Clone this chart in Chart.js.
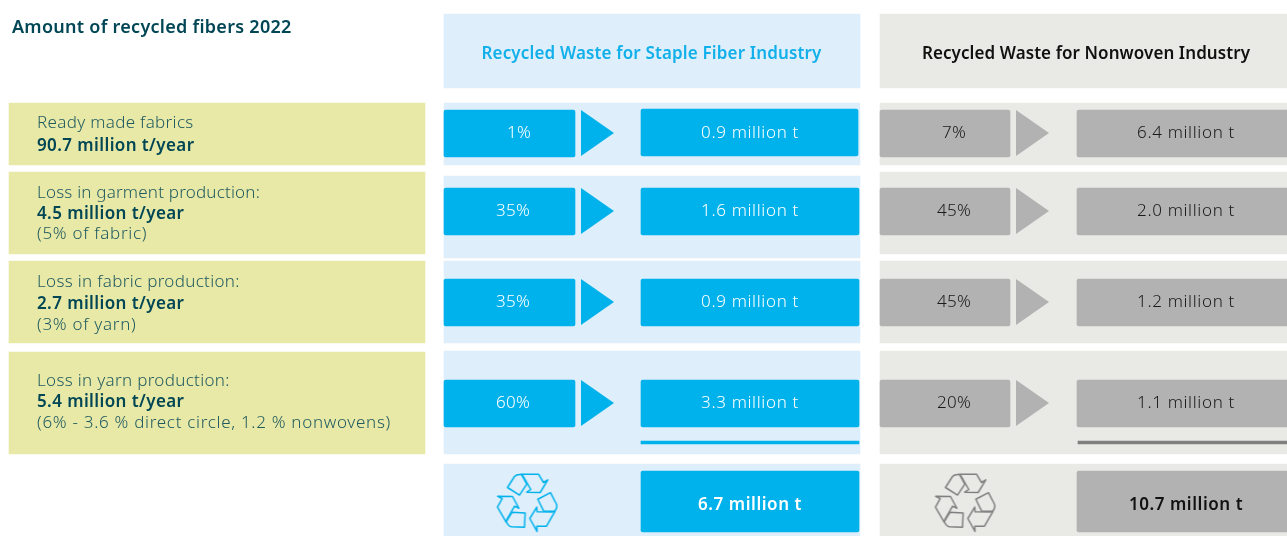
<!DOCTYPE html>
<html>
<head>
<meta charset="utf-8">
<title>Amount of recycled fibers 2022</title>
<script src="https://cdn.jsdelivr.net/npm/chart.js@4"></script>
<style>
html,body{margin:0;padding:0;background:#fff}
canvas{display:block}
</style>
</head>
<body>
<div style="width:1287px;height:536px"><canvas id="c" width="1287" height="536"></canvas></div>
<script>
// ---- data ----
const chartTitle = 'Amount of recycled fibers 2022';
const stapleTitle = 'Recycled Waste for Staple Fiber Industry';
const nonwovenTitle = 'Recycled Waste for Nonwoven Industry';
const categories = ['Ready made fabrics', 'Loss in garment production:', 'Loss in fabric production:', 'Loss in yarn production:'];
const categoryAmounts = [90.7, 4.5, 2.7, 5.4];
const categoryNotes = ['', '(5% of fabric)', '(3% of yarn)', '(6% - 3.6 % direct circle, 1.2 % nonwovens)'];
const staplePercent = [1, 35, 35, 60];
const stapleTonnes = [0.9, 1.6, 0.9, 3.3];
const stapleTotal = 6.7;
const nonwovenPercent = [7, 45, 45, 20];
const nonwovenTonnes = [6.4, 2.0, 1.2, 1.1];
const nonwovenTotal = 10.7;

// ---- layout (pixel frame of the infographic) ----
const W = 1287, H = 536;
const FONT = '"Noto Sans"';
const C = {
  yellow:'#E8E9A6', bluePanel:'#DEEEFB', blue:'#00B2EC', greyPanel:'#E9E9E5', grey:'#B2B2B2', greyLine:'#808080',
  title:'#004655', light:'#1F5A60', dark:'#1A1A1A'
};
const yellowRows = [[103,165],[172,254],[261,343],[352,454]];
const blueRows = [[103,165],[176,258],[261,343],[351,454]];
const greyRows = [[103,165],[172,254],[261,343],[351,454]];
const barRowsLeft = [[110,157],[188,235],[279,326],[380,427]];
const barRowsRight = [[109,156],[188,235],[279,326],[380,427]];
const greyBarRight = [[110,157],[188,235],[279,326],[380,427]];
const triY = [133,211,302,403];
const textY = [138,216,307,408];
const pctXBlue = [519,513,513,513];
const labelBase = [[128,151,0],[198,218.5,239],[287,308.5,330],[385.5,407,428]];
const labelSpacing = [.32,.2,.32,.32];

function rect(x0,x1,y0,y1,color,order,radius){
  return {type:'bar',grouped:false,order,backgroundColor:color,borderWidth:0,borderRadius:radius||0,borderSkipped:false,
          barThickness:x1-x0,data:[{x:(x0+x1)/2,y:[y0,y1]}]};
}
const datasets = [];
yellowRows.forEach(r=>datasets.push(rect(9,425,r[0],r[1],C.yellow,5)));
datasets.push(rect(444,860,14,88,C.bluePanel,5));
datasets.push(rect(880,W,14,88,C.greyPanel,5));
blueRows.forEach(r=>datasets.push(rect(444,860,r[0],r[1],C.bluePanel,5)));
greyRows.forEach(r=>datasets.push(rect(880,W,r[0],r[1],C.greyPanel,5)));
datasets.push(rect(444,860,464,536,C.bluePanel,5));
datasets.push(rect(880,W,464,536,C.greyPanel,5));
categories.forEach((_,i)=>{
  datasets.push(rect(444,575,barRowsLeft[i][0],barRowsLeft[i][1],C.blue,3,2));
  datasets.push(rect(641,i===0?858:859,barRowsRight[i][0],barRowsRight[i][1],C.blue,3,2));
  datasets.push(rect(880,1010,barRowsLeft[i][0],barRowsLeft[i][1],C.grey,3,2));
  datasets.push(rect(1077,W+3,greyBarRight[i][0],greyBarRight[i][1],C.grey,3,2));
});
datasets.push(rect(641,859,441,444,C.blue,3));
datasets.push(rect(1078,W,441,444,C.greyLine,3));
datasets.push(rect(641,859,471,532,C.blue,3,2));
datasets.push(rect(1077,W+3,471,532,C.grey,3,2));

function triangleImage(color){
  const c=document.createElement('canvas');c.width=33;c.height=46;
  const g=c.getContext('2d');g.fillStyle=color;g.beginPath();g.moveTo(0,0);g.lineTo(33,23);g.lineTo(0,46);g.closePath();g.fill();
  return c;
}
function recycleImage(color){
  const c=document.createElement('canvas');c.width=64;c.height=64;
  const g=c.getContext('2d');g.strokeStyle=color;g.lineWidth=1.5;g.lineJoin='round';
  const arrow=[[-6,-28.3],[11,-28.3],[16,-20],[20.3,-22.7],[12.7,-10],[-0.7,-10.3],[3.3,-13],[-4,-25.7]];
  g.translate(32,31.5);
  for(let k=0;k<3;k++){
    g.beginPath();g.moveTo(-20,-15);g.lineTo(-13,-26);g.quadraticCurveTo(-11,-28.5,-6,-28);
    g.lineTo(-0.7,-18.3);g.lineTo(-8,-7.3);g.closePath();g.stroke();
    g.beginPath();arrow.forEach((q,i)=>i?g.lineTo(q[0],q[1]):g.moveTo(q[0],q[1]));g.closePath();g.stroke();
    g.rotate(2*Math.PI/3);
  }
  return c;
}
datasets.push({type:'scatter',order:2,pointStyle:triangleImage(C.blue),data:triY.map(y=>({x:597.5,y}))});
datasets.push({type:'scatter',order:2,pointStyle:triangleImage(C.grey),data:triY.map(y=>({x:1032.5,y}))});
datasets.push({type:'scatter',order:2,pointStyle:recycleImage(C.blue),data:[{x:527.5,y:503}]});
datasets.push({type:'scatter',order:2,pointStyle:recycleImage('#808080'),data:[{x:965.5,y:503}]});

const mt = v => v.toFixed(1)+' million t';
const textPlugin = {
  id:'texts',
  afterDatasetsDraw(chart){
    const {ctx,scales:{x,y}} = chart;
    const put=(s,px,py,font,color,align,sp)=>{
      ctx.font=font+' '+FONT;ctx.fillStyle=color;ctx.textAlign=align||'left';ctx.textBaseline='alphabetic';
      ctx.letterSpacing=(sp||0)+'px';
      ctx.fillText(s,x.getPixelForValue(px),y.getPixelForValue(py));
    };
    ctx.save();
    const LIGHT='300 17px', BOLD='600 17px';
    put(chartTitle,12,32.5,'600 18px',C.title,'left',.27);
    put(stapleTitle,651.5,59,BOLD,'#12B0EA','center',.15);
    put(nonwovenTitle,1086,59,BOLD,'#111','center',.08);
    categories.forEach((cat,i)=>{
      put(cat,37,labelBase[i][0],LIGHT,C.light,'left',labelSpacing[i]);
      put(categoryAmounts[i].toFixed(1)+' million t/year',37,labelBase[i][1],BOLD,C.title,'left',.4);
      if(categoryNotes[i]) put(categoryNotes[i],37,labelBase[i][2],LIGHT,C.light,'left',.7);
      put(staplePercent[i]+'%',pctXBlue[i],textY[i],LIGHT,'#fff','center',.2);
      put(mt(stapleTonnes[i]),750,textY[i],LIGHT,'#fff','center',.65);
      put(nonwovenPercent[i]+'%',954,textY[i],LIGHT,C.dark,'center',.2);
      put(mt(nonwovenTonnes[i]),1186,textY[i],LIGHT,C.dark,'center',.65);
    });
    put(mt(stapleTotal),750,510,BOLD,'#fff','center',.55);
    put(mt(nonwovenTotal),1186,510,BOLD,'#111','center',.55);
    ctx.restore();
  }
};

new Chart(document.getElementById('c'),{
  data:{datasets},
  options:{
    responsive:false,animation:false,
    layout:{padding:0,autoPadding:false},
    plugins:{legend:{display:false},tooltip:{enabled:false}},
    scales:{
      x:{type:'linear',min:0,max:W,display:false,offset:false,grid:{offset:false}},
      y:{type:'linear',min:0,max:H,reverse:true,display:false,offset:false,grid:{offset:false}}
    }
  },
  plugins:[textPlugin]
});
</script>
</body>
</html>
